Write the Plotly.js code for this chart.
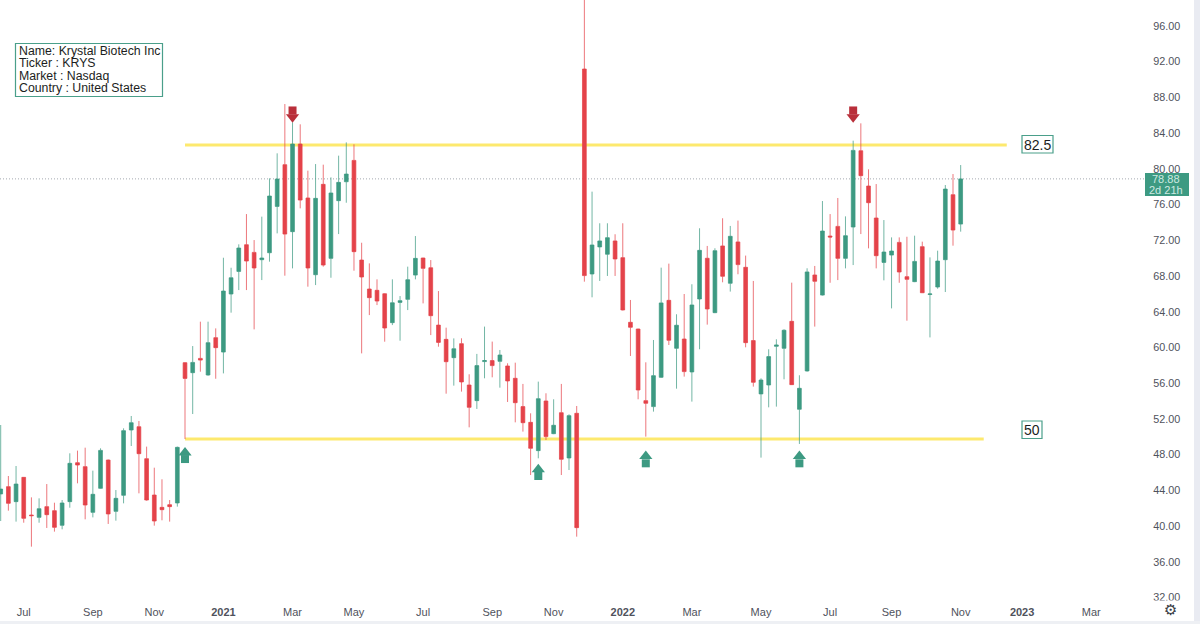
<!DOCTYPE html>
<html>
<head>
<meta charset="utf-8">
<script src="https://cdn.plot.ly/plotly-3.0.1.min.js"></script>
<style>html,body{margin:0;padding:0;background:#fff}#chart{width:1200px;height:624px}</style>
</head>
<body>
<div id="chart"></div>
<script>
const opens = [43.6,44.42,42.74,45.46,41.24,40.98,42.18,41.73,40.09,42.74,
47.1,46.66,41.54,44.23,47.4,41.65,43.45,50.76,51.13,47.55,
43.48,42.1,42.4,42.59,58.3,57.18,58.78,56.92,61.1,59.49,
65.99,68.52,71.51,70.65,69.83,70.61,75.8,80.47,72.97,82.78,
76.74,68.15,78.27,69.98,76.44,78.56,80.95,69.79,66.55,66.4,
66.02,62.78,65.05,65.39,68.11,70.02,68.93,62.51,60.91,58.86,
60.43,55.8,54.05,58.42,58.53,58.45,57.93,56.55,53.38,51.62,
48.45,54.01,50.35,52.7,47.63,52.63,91.18,68.23,71.26,70.44,
71.93,70.06,62.82,62.07,54.05,53.38,56.66,65.28,59.91,60.95,
57.26,65.43,69.99,63.9,71.37,67.19,71.82,68.98,60.77,54.8,
55.8,60.13,59.91,62.93,53.08,57.37,68.12,65.87,72.48,73.56,
69.98,73.49,82.03,78.08,74.5,69.53,70.35,71.77,67.93,67.37,
71.29,65.93,66.77,69.83,77.11,73.82];
const highs = [51.32,45.61,46.73,45.5,43.22,43.11,44.71,42.62,42.92,48.15,
48.45,48.78,46.21,48.71,47.45,44.04,50.95,52.33,51.77,48.9,
46.54,45.24,42.92,48.9,58.35,60.16,62.89,62.89,62.14,70.05,
68.93,71.55,74.94,72.03,74.65,78.94,81.74,87.26,85.21,84.99,
79.8,80.54,80.47,79.05,81.48,82.97,82.75,71.73,69.42,67.63,
66.06,67.63,65.76,69.05,72.48,70.05,69.79,66.32,62.22,61.02,
61.03,57,59.28,62.34,60.66,59.72,58.23,58.3,55.92,52.63,
56.18,54.87,54.2,55.92,52.52,53.45,100,77.45,73.91,73.91,
72.68,73.91,65.32,62.1,58.34,60.84,68.94,69.39,63.72,65.99,
67.08,73.35,71.37,71.11,74.47,73.61,74.21,70.29,67.45,56.55,
59.8,60.92,62.04,67.26,56.89,68.87,69.13,76.4,74.94,76.74,
74.68,83.16,85.1,79.95,78.3,74.27,72.33,72.33,72.4,72.52,
71.85,70.09,70.84,78.19,79.42,80.43];
const lows = [40.57,41.73,40.5,40.38,37.7,40.38,39.79,39.38,39.64,42.06,
44.79,40.76,40.98,44.2,40.24,40.61,42.55,48.97,43.67,42.85,
40.05,40.65,40.5,42.18,49.75,52.55,57.29,56.84,56.5,57.1,
63.9,66.43,66.43,62.03,67.55,69.61,72.78,68.04,68.86,75.58,
66.81,66.99,69.05,67.81,72.7,76.21,68.6,59.34,63.63,64.75,
60.65,62.51,60.76,64.19,67.63,64.94,61.39,60.09,54.83,55.73,
55.06,51.06,53.12,56.55,56.66,55.5,53.9,51.62,50.58,45.72,
47.59,49.64,50.3,45.72,46.28,38.82,67.37,65.62,67.45,68.01,
68.01,64.15,59.05,54.2,50.02,52.82,56.6,60.28,55.39,56.74,
53.94,59.8,62.56,63.85,67.3,66.26,68.2,60.02,55.62,47.67,
53.3,53.38,56.44,55.8,49.2,57.3,62.34,65.82,67.25,67.55,
68.86,69.23,72.7,71.1,68.86,67.52,64.38,67.25,63,67.32,
66.1,61.13,66.58,66.21,71.4,72.97];
const closes = [44.15,42.55,44.71,40.87,41.17,41.95,41.28,39.86,42.59,47.03,
46.84,42.36,43.56,48.48,41.36,43.11,50.69,51.58,48.11,42.92,
40.57,41.84,42.18,48.82,56.54,58.33,58.59,60.54,59.98,66.32,
67.81,71.14,69.68,68.9,70.02,76.96,78.86,72.7,82.78,76.51,
68.9,76.7,69.23,77.3,78.49,79.42,70.73,67.89,65.58,65.2,
62.18,65.01,65.24,67.59,69.98,68.86,63.56,60.57,58.41,59.86,
56.14,53.3,57.97,58.53,57.97,59.16,56.25,53.82,51.58,48.71,
54.27,50.02,51.29,47.48,52.37,39.83,68.05,71.48,71.93,72.3,
69.91,64.2,62.26,55.24,53.75,56.85,64.99,60.81,62.49,57.3,
64.76,70.88,64.31,70.84,67.97,72.45,69.28,60.54,56.1,56.36,
58.98,60.28,61.93,55.84,55.43,68.46,67.41,73.04,72.37,69.98,
72.52,82.07,79.24,76.21,70.28,70.69,70.8,68.45,67.63,69.64,
66.13,66,69.68,77.74,73.15,78.88];

const xTickWeeks = [3,12,20,29,38,46,55,64,72,81,90,99,108,116,125,133,142];
const xTickLabels = ['Jul','Sep','Nov','<b>2021</b>','Mar','May','Jul','Sep','Nov','<b>2022</b>','Mar','May','Jul','Sep','Nov','<b>2023</b>','Mar'];
const yTicks = [32,36,40,44,48,52,56,60,64,68,72,76,80,84,88,92,96];

const upHeadX = [24,70,84,104];
const upHeadY = [48.22,46.34,47.83,47.83];
const upStemY = [47.51,45.61,47.03,47.03];
const downHeadX = [38,111];
const downHeadY = [85.8,85.8];
const downStemY = [86.54,86.54];

const resistanceLevel = 82.67, resistanceFrom = 24, resistanceTo = 131, resistanceLabel = '82.5';
const supportLevel = 49.75, supportFrom = 24, supportTo = 128, supportLabel = '50';
const lastPrice = 78.88;
const infoLines = ['Name: Krystal Biotech Inc','Ticker : KRYS','Market : Nasdaq','Country : United States'];
const priceTagLines = ['78.88','2d 21h'];

const GREEN = '#3d9a82', RED = '#e4434a', ARROW_RED = '#b92f3a', YELLOW = '#fde96e', TEXT = '#4f525c';
const PW = 1145, PH = 598;
const px = v => v / PW, py = v => 1 - v / PH;
const font = 'Liberation Sans, Arial, sans-serif';

const weekIndex = closes.map((_, i) => i);

const traces = [
  {type:'candlestick', x:weekIndex, open:opens, high:highs, low:lows, close:closes,
   increasing:{line:{color:'rgba(61,154,130,0.72)',width:1}, fillcolor:GREEN},
   decreasing:{line:{color:'rgba(228,67,74,0.72)',width:1}, fillcolor:RED},
   hoverinfo:'skip', showlegend:false},
  {type:'scatter', mode:'markers', x:upHeadX, y:upHeadY, marker:{symbol:'triangle-up',size:11.5,color:GREEN,line:{width:0}}, hoverinfo:'skip', showlegend:false},
  {type:'scatter', mode:'markers', x:upHeadX, y:upStemY, marker:{symbol:'square',size:8,color:GREEN,line:{width:0}}, hoverinfo:'skip', showlegend:false},
  {type:'scatter', mode:'markers', x:downHeadX, y:downHeadY, marker:{symbol:'triangle-down',size:11.5,color:ARROW_RED,line:{width:0}}, hoverinfo:'skip', showlegend:false},
  {type:'scatter', mode:'markers', x:downHeadX, y:downStemY, marker:{symbol:'square',size:8,color:ARROW_RED,line:{width:0}}, hoverinfo:'skip', showlegend:false}
];

const paperRect = (x0,y0,x1,y1,fill,lineColor,lw) => ({type:'rect',xref:'paper',yref:'paper',layer:'above',
  x0:px(x0),x1:px(x1),y0:py(y1),y1:py(y0),fillcolor:fill,line:{color:lineColor||fill,width:lw===undefined?0:lw}});

const shapes = [
  {type:'line',layer:'below',xref:'paper',yref:'y',x0:0,x1:1,y0:lastPrice,y1:lastPrice,line:{color:'#a4a9b0',width:1,dash:'1px,2px'}},
  {type:'line',layer:'below',xref:'x',yref:'y',x0:resistanceFrom,x1:resistanceTo,y0:resistanceLevel,y1:resistanceLevel,line:{color:YELLOW,width:3}},
  {type:'line',layer:'below',xref:'x',yref:'y',x0:supportFrom,x1:supportTo,y0:supportLevel,y1:supportLevel,line:{color:YELLOW,width:3}},
  paperRect(15.5,43.5,162.5,96.5,'#ffffff','#4a9f8a',1.2),
  paperRect(1022,135.5,1053,153,'#ffffff','#4a9f8a',1.2),
  paperRect(1022,421,1042,438.5,'#ffffff','#4a9f8a',1.2),
  paperRect(1145,173,1189,196,GREEN),
  paperRect(1148,600.5,1192,607,'#ffffff'),
  paperRect(1194,0,1200,624,'#e9ebf2'),
  paperRect(0,621,1200,624,'#eef0f4')
];

const ann = (x,y,text,opt) => Object.assign({xref:'paper',yref:'paper',x:px(x),y:py(y),text,showarrow:false,
  xanchor:'left',yanchor:'middle',font:{family:font,size:13,color:'#1c1e22'},borderpad:0}, opt||{});

const annotations = [
  ...infoLines.map((t,i)=>ann(18, 51.3 + i*12.2, t, {font:{family:font,size:12.3,color:'#1c1e22'}})),
  ann(1037.5,144.5,resistanceLabel,{xanchor:'center',font:{family:font,size:14,color:'#1c1e22'}}),
  ann(1032,430,supportLabel,{xanchor:'center',font:{family:font,size:14,color:'#1c1e22'}}),
  ann(1166,179.5,priceTagLines[0],{xanchor:'center',font:{family:font,size:11,color:'#cfe9e1'}}),
  ann(1166,190,priceTagLines[1],{xanchor:'center',font:{family:font,size:11,color:'#cfe9e1'}}),
  ann(1170,610,'\u2699',{xanchor:'center',font:{family:'DejaVu Sans',size:15,color:'#3a3d45'}})
];

const layout = {
  width:1200, height:624,
  margin:{l:0,r:55,t:0,b:26,pad:0},
  paper_bgcolor:'#ffffff', plot_bgcolor:'#ffffff',
  showlegend:false, dragmode:false, hovermode:false,
  xaxis:{type:'linear',range:[-0.09,149],rangeslider:{visible:false},showgrid:false,zeroline:false,showline:false,
    tickmode:'array',tickvals:xTickWeeks,ticktext:xTickLabels,ticks:'outside',ticklen:4,tickcolor:'rgba(0,0,0,0)',
    tickfont:{family:font,size:11,color:TEXT}},
  yaxis:{type:'linear',range:[31.95,98.91],side:'right',showgrid:false,zeroline:false,showline:false,
    tickmode:'array',tickvals:yTicks,tickformat:'.2f',ticks:'outside',ticklen:5,tickcolor:'rgba(0,0,0,0)',
    tickfont:{family:font,size:10.8,color:TEXT}},
  shapes, annotations
};

Plotly.newPlot('chart', traces, layout, {displayModeBar:false, staticPlot:true});
</script>
</body>
</html>
